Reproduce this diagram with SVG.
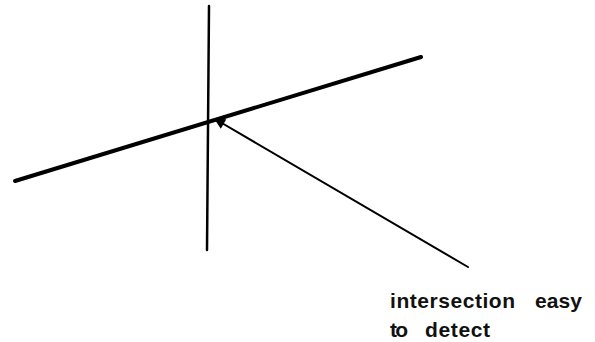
<svg xmlns="http://www.w3.org/2000/svg" width="595" height="342" viewBox="0 0 595 342">
<style>
.ln{stroke:#000;stroke-linecap:round;fill:none}
.lbl{font-family:"Liberation Sans",Arial,sans-serif;font-size:21px;font-weight:bold;fill:#111}
</style>
<defs>
<marker id="ah" viewBox="0 0 10 10" refX="9" refY="5" markerWidth="6" markerHeight="5.5" orient="auto" markerUnits="strokeWidth">
<path d="M0,0 L10,5 L0,10 z" fill="#000"/>
</marker>
</defs>
<rect width="595" height="342" fill="#fff"/>
<g id="vertical-line"><line class="ln" x1="209" y1="6" x2="207" y2="250" stroke-width="2.5"/></g>
<g id="oblique-line"><line class="ln" x1="15" y1="181" x2="421" y2="57" stroke-width="4"/></g>
<g id="connectors"><line class="ln" x1="468" y1="267" x2="215" y2="119" stroke-width="2" marker-end="url(#ah)"/></g>
<g id="label">
<text class="lbl"><tspan x="390" y="308" textLength="125" lengthAdjust="spacing">intersection</tspan><tspan x="535" y="308" textLength="47" lengthAdjust="spacing">easy</tspan></text>
<text class="lbl"><tspan x="390" y="337" textLength="18" lengthAdjust="spacing">to</tspan><tspan x="425" y="337" textLength="65" lengthAdjust="spacing">detect</tspan></text>
</g>
</svg>
